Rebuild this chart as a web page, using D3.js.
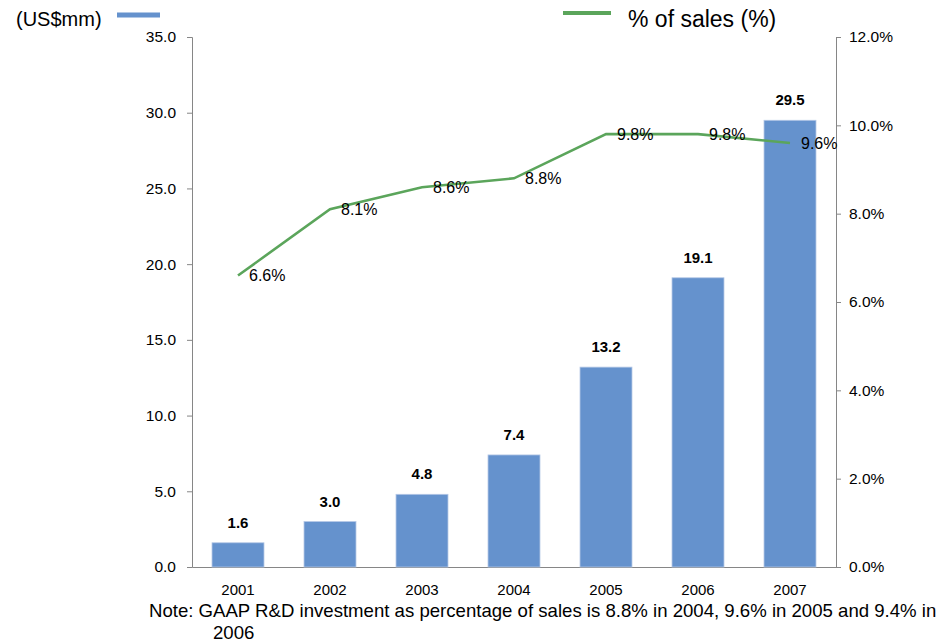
<!DOCTYPE html>
<html>
<head>
<meta charset="utf-8">
<script src="https://cdn.jsdelivr.net/npm/d3@7"></script>
<style>
  html, body { margin: 0; padding: 0; background: #fff; }
  svg { display: block; font-family: "Liberation Sans", Arial, sans-serif; }
</style>
</head>
<body>
<svg id="chart" width="949" height="644"></svg>
<script>
// R&D investment (US$mm) and R&D as % of sales, by year
const years = ["2001", "2002", "2003", "2004", "2005", "2006", "2007"];
const rdSpend = [1.6, 3.0, 4.8, 7.4, 13.2, 19.1, 29.5];
const pctOfSales = [6.6, 8.1, 8.6, 8.8, 9.8, 9.8, 9.6];
const leftTicks = [0, 5, 10, 15, 20, 25, 30, 35];
const rightTicks = [0, 2, 4, 6, 8, 10, 12];

const barColor = "#6592CD";
const lineColor = "#5BA55B";
const axisColor = "#868686";

const svg = d3.select("#chart");
const m = { left: 192, right: 836, top: 37, bottom: 567 };

const x = d3.scaleBand().domain(years).range([m.left, m.right]).paddingInner(0.435).paddingOuter(0.2175);
const yL = d3.scaleLinear().domain([0, 35]).range([m.bottom, m.top]);
const yR = d3.scaleLinear().domain([0, 12]).range([m.bottom, m.top]);

// Left axis
const gL = svg.append("g").attr("transform", `translate(${m.left},0)`)
  .call(d3.axisLeft(yL).tickValues(leftTicks).tickSize(5).tickPadding(11).tickFormat(d3.format(".1f")));
// Right axis
const gR = svg.append("g").attr("transform", `translate(${m.right},0)`)
  .call(d3.axisRight(yR).tickValues(rightTicks).tickSize(5).tickPadding(8).tickFormat(d => d3.format(".1f")(d) + "%"));
// Bottom axis
const gB = svg.append("g").attr("transform", `translate(0,${m.bottom})`)
  .call(d3.axisBottom(x).tickSize(0).tickPadding(17));

[gL, gR, gB].forEach(g => {
  g.attr("font-size", null);
  g.selectAll("path.domain").attr("stroke", axisColor).attr("stroke-width", 1);
  g.selectAll(".tick line").attr("stroke", axisColor);
  g.selectAll("text").attr("fill", "#000").style("font-size", "15.5px")
    .style("font-family", "'Liberation Sans', Arial, sans-serif");
});
gB.selectAll("text").style("font-size", "15px");

// Bars
svg.append("g").selectAll("rect").data(years).join("rect")
  .attr("x", d => x(d))
  .attr("width", x.bandwidth())
  .attr("y", (d, i) => yL(rdSpend[i]))
  .attr("height", (d, i) => yL(0) - yL(rdSpend[i]))
  .attr("fill", barColor)
  .attr("stroke", "#B5C8E6")
  .attr("stroke-width", 0.8);

// Bar value labels
svg.append("g").selectAll("text").data(years).join("text")
  .attr("x", d => x(d) + x.bandwidth() / 2)
  .attr("y", (d, i) => yL(rdSpend[i]) - 15)
  .attr("text-anchor", "middle")
  .style("font-size", "15px").style("font-weight", "bold")
  .text((d, i) => d3.format(".1f")(rdSpend[i]));

// % of sales line
const cx = d => x(d) + x.bandwidth() / 2;
svg.append("path")
  .datum(years)
  .attr("fill", "none")
  .attr("stroke", lineColor)
  .attr("stroke-width", 2.6)
  .attr("d", d3.line().x(d => cx(d)).y((d, i) => yR(pctOfSales[i])));

svg.append("g").selectAll("text").data(years).join("text")
  .attr("x", d => cx(d) + 11)
  .attr("y", (d, i) => yR(pctOfSales[i]))
  .attr("dy", "0.35em")
  .style("font-size", "16px")
  .text((d, i) => d3.format(".1f")(pctOfSales[i]) + "%");

// Legend
svg.append("text").attr("x", 16).attr("y", 26).style("font-size", "20px").text("(US$mm)");
svg.append("line").attr("x1", 117).attr("x2", 160).attr("y1", 15).attr("y2", 15)
  .attr("stroke", barColor).attr("stroke-width", 5);
svg.append("line").attr("x1", 563).attr("x2", 611).attr("y1", 13).attr("y2", 13)
  .attr("stroke", lineColor).attr("stroke-width", 4);
svg.append("text").attr("x", 628).attr("y", 27).style("font-size", "23px").text("% of sales (%)");

// Footnote
svg.append("text").attr("x", 149).attr("y", 617).style("font-size", "18.6px")
  .text("Note: GAAP R&D investment as percentage of sales is 8.8% in 2004, 9.6% in 2005 and 9.4% in");
svg.append("text").attr("x", 213).attr("y", 639).style("font-size", "18.6px").text("2006");
</script>
</body>
</html>
